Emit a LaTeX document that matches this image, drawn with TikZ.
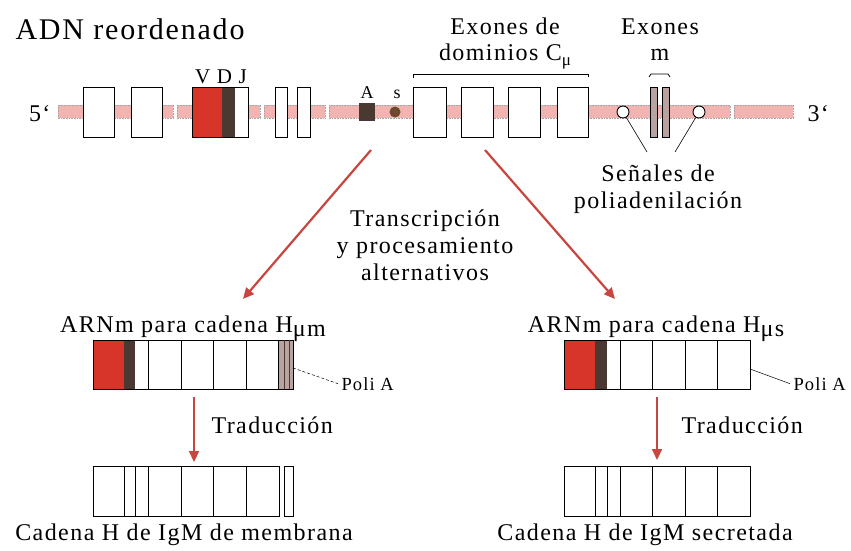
\documentclass[tikz,border=0pt]{standalone}
\usepackage{fontspec}
\setmainfont{Liberation Serif}[LetterSpace=6]
\usepackage{tikz}
\usetikzlibrary{arrows.meta,positioning}
\definecolor{adnrosa}{HTML}{F2B4B0}
\definecolor{exonrojo}{HTML}{D8352A}
\definecolor{exonosc}{HTML}{4A3833}
\definecolor{exonm}{HTML}{B9A3A0}
\definecolor{senals}{HTML}{6A4A2E}
\definecolor{flecharoja}{HTML}{C8463F}
\newcommand{\lbltxt}{\fontsize{24}{27}\selectfont}
\newcommand{\lblpeq}{\fontsize{18.5}{20}\selectfont}

\tikzset{
  exon/.style={draw=black,fill=white,line width=0.9pt},
  hebra/.style={fill=adnrosa,draw=gray!70,densely dotted,line width=0.6pt},
  flechaR/.style={draw=flecharoja,line width=2.2pt,-{Triangle[length=11pt,width=10pt]}},
  senal/.style={circle,draw=black,fill=white,line width=0.9pt,inner sep=0pt,minimum size=12pt},
  rotulo/.style={align=center,anchor=base,font=\lbltxt},
}

\begin{document}
\begin{tikzpicture}[x=1pt,y=-1pt,font=\lbltxt]
  \useasboundingbox (0,0) rectangle (851,551);
  % ADN reordenado
  \begin{scope}
    \node[anchor=base west,font=\fontsize{30}{32}\selectfont] (titulo) at (12,40) {ADN reordenado};
    \foreach \a/\b in {58/173,177/260,264/325,329/730,734/793}{
      \filldraw[hebra] (\a,105) rectangle (\b,118);}
    \foreach \a/\b in {83/114,131/162,275/287,297/310,413/446,461/493,508/540,557/588}{
      \filldraw[exon] (\a,87) rectangle (\b,137);}
    \fill[white] (192,87) rectangle (248,137);
    \fill[exonrojo] (192,87) rectangle (222,137);
    \fill[exonosc] (222,87) rectangle (235,137);
    \draw[line width=0.9pt] (192,87) rectangle (248,137);
    \fill[exonosc] (359,103) rectangle (375,121);
    \fill[senals] (395,112) circle (5.5);
    \foreach \a/\b in {650/657,662/669}{
      \filldraw[exon,fill=exonm] (\a,87) rectangle (\b,137);}
    \node[senal] (pa1) at (623,112) {};
    \node[senal] (pa2) at (699,112) {};
    \draw[line width=0.8pt] (413,78) -- (413,74) -- (588,74) -- (588,77);
    \draw[line width=0.8pt] (649,77) -- (651,74) -- (668,74) -- (670,77);
    \node[anchor=base,font=\fontsize{21}{22}\selectfont] (vdj) at (221,83) {V D J};
    \node[anchor=base,font=\fontsize{18}{20}\selectfont] (lblA) at (367,98) {A};
    \node[anchor=base,font=\fontsize{18}{20}\selectfont] (lbls) at (397,98) {s};
    \node[anchor=base east] (cinco) at (54,121) {5`};
    \node[anchor=base west] (tres) at (804,121) {3`};
    \node[rotulo] (exonC) at (505,61) {Exones de\\dominios C\raisebox{-5pt}{\fontsize{17}{17}\selectfont μ}};
    \node[rotulo] (exonM) at (660,61) {Exones\\m};
    \node[rotulo] (senales) at (658,208) {Señales de\\poliadenilación};
    \coordinate (s1) at (647,152);
    \coordinate (s2) at (675,152);
    \draw[line width=0.6pt] (pa1) -- (s1);
    \draw[line width=0.6pt] (pa2) -- (s2);
    \node[rotulo] (transc) at (425,280) {Transcripción\\y procesamiento\\alternativos};
    \coordinate (o1) at (371,150);
    \coordinate (d1) at (243,299);
    \coordinate (o2) at (485,150);
    \coordinate (d2) at (615,299);
    \draw[flechaR] (o1) -- (d1);
    \draw[flechaR] (o2) -- (d2);
  \end{scope}
  % cadena de membrana
  \begin{scope}
    \node[anchor=base] (arnL) at (193,332) {ARNm para cadena H\raisebox{-4pt}{μm}};
    \fill[exonrojo] (93,340) rectangle (124,389);
    \fill[exonosc] (124,340) rectangle (135,389);
    \fill[exonm] (278,340) rectangle (293,389);
    \draw[line width=0.9pt] (93,340) rectangle (293,389);
    \foreach \x in {148,181,213,246,278}{\draw[line width=0.9pt] (\x,340) -- (\x,389);}
    \foreach \x in {284,289}{\draw[exonosc,line width=0.6pt] (\x,340) -- (\x,389);}
    \coordinate (plL) at (293,368);
    \node[anchor=base west,font=\lblpeq] (poliL) at (338,390) {Poli A};
    \draw[densely dashed,line width=0.5pt] (plL) -- (poliL.west);
    \coordinate (tL1) at (194,397);
    \coordinate (tL2) at (194,462);
    \draw[flechaR] (tL1) -- (tL2);
    \node[anchor=base west] (tradL) at (208,433) {Traducción};
    \draw[line width=0.9pt] (93,466) rectangle (279,516);
    \foreach \x in {124,135,148,181,213,246}{\draw[line width=0.9pt] (\x,466) -- (\x,516);}
    \draw[line width=0.9pt] (284,466) rectangle (293,516);
    \node[anchor=base] (cadL) at (184,540) {Cadena H de IgM de membrana};
  \end{scope}
  % cadena secretada
  \begin{scope}
    \node[anchor=base] (arnR) at (656,332) {ARNm para cadena H\raisebox{-4pt}{μs}};
    \fill[exonrojo] (564,340) rectangle (595,389);
    \fill[exonosc] (595,340) rectangle (607,389);
    \draw[line width=0.9pt] (564,340) rectangle (750,389);
    \foreach \x in {620,652,685,717}{\draw[line width=0.9pt] (\x,340) -- (\x,389);}
    \coordinate (plR) at (750,369);
    \node[anchor=base west,font=\lblpeq] (poliR) at (790,390) {Poli A};
    \draw[line width=0.5pt] (plR) -- (poliR.west);
    \coordinate (tR1) at (657,397);
    \coordinate (tR2) at (657,460);
    \draw[flechaR] (tR1) -- (tR2);
    \node[anchor=base west] (tradR) at (678,433) {Traducción};
    \draw[line width=0.9pt] (564,466) rectangle (750,516);
    \foreach \x in {595,607,620,652,685,717}{\draw[line width=0.9pt] (\x,466) -- (\x,516);}
    \node[anchor=base] (cadR) at (645,540) {Cadena H de IgM secretada};
  \end{scope}
\end{tikzpicture}
\end{document}
